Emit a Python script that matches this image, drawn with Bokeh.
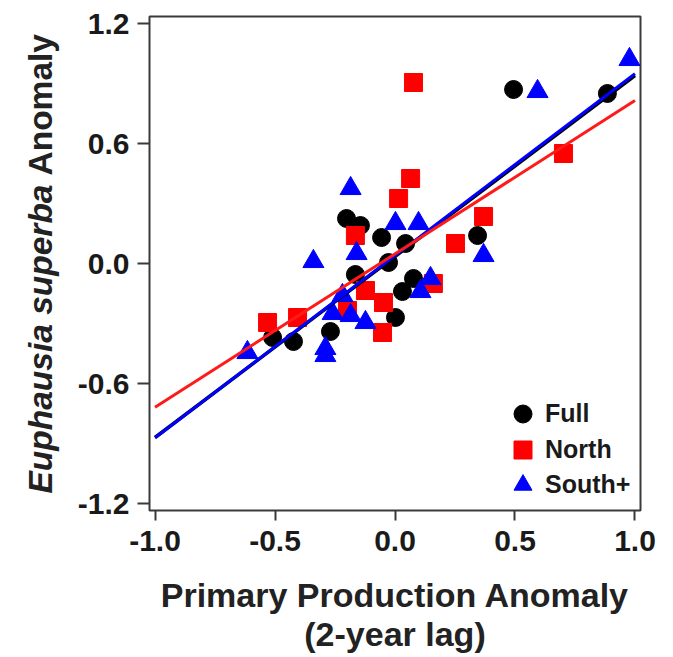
from bokeh.plotting import figure
from bokeh.models import (Range1d, FixedTicker, PrintfTickFormatter, Legend,
                          LegendItem, Label)
from bokeh.embed import file_html
from bokeh.resources import INLINE
import numpy as np

# Primary production anomaly (2-year lag) vs. krill anomaly, by region
full_x = [0.494, 0.885, 0.344, -0.202, -0.144, -0.056, 0.044, -0.027, -0.165,
          0.077, 0.031, 0.002, -0.269, -0.510, -0.423]
full_y = [0.870, 0.850, 0.140, 0.225, 0.190, 0.130, 0.100, 0.005, -0.055,
          -0.075, -0.140, -0.270, -0.340, -0.370, -0.390]

north_x = [0.077, 0.702, 0.065, 0.015, 0.369, -0.165, 0.252, -0.123, -0.048,
           -0.198, -0.052, 0.160, -0.531, -0.406]
north_y = [0.905, 0.550, 0.425, 0.325, 0.235, 0.140, 0.100, -0.135, -0.195,
           -0.235, -0.345, -0.100, -0.295, -0.270]

south_x = [0.977, 0.594, -0.185, 0.002, 0.098, -0.160, 0.369, -0.340, 0.148,
           0.106, -0.219, -0.260, -0.185, -0.123, -0.290, -0.290, -0.615]
south_y = [1.020, 0.860, 0.375, 0.200, 0.200, 0.050, 0.040, 0.010, -0.075,
           -0.140, -0.160, -0.250, -0.260, -0.295, -0.425, -0.460, -0.445]

# Linear fits: (intercept, slope)
fit_full = (0.035, 0.905)
fit_north = (0.048, 0.767)
fit_south = (0.039, 0.910)
fit_x = np.array([-1.0, 1.0])

x_ticks = [-1.0, -0.5, 0.0, 0.5, 1.0]
y_ticks = [-1.2, -0.6, 0.0, 0.6, 1.2]

series_names = ["Full", "North", "South+"]

FONT = "Liberation Sans"
INK = "#1a1a1a"
TITLE_INK = "#222222"
AXIS = "#3a3a3a"

p = figure(width=673, height=657,
           x_range=Range1d(-1.023, 1.023), y_range=Range1d(-1.235, 1.235),
           output_backend="svg", toolbar_location=None,
           min_border_left=149, min_border_right=33,
           min_border_top=16, min_border_bottom=147)

p.xgrid.visible = False
p.ygrid.visible = False
p.outline_line_color = AXIS
p.outline_line_width = 2
p.background_fill_color = "white"
p.border_fill_color = "white"

for ax in (p.xaxis[0], p.yaxis[0]):
    ax.axis_line_color = None
    ax.major_tick_line_color = AXIS
    ax.major_tick_line_width = 2
    ax.major_tick_in = 0
    ax.minor_tick_line_color = None
    ax.major_label_text_font = FONT
    ax.major_label_text_font_style = "bold"
    ax.major_label_text_font_size = "30px"
    ax.major_label_text_color = INK
    ax.formatter = PrintfTickFormatter(format="%.1f")

p.xaxis[0].ticker = FixedTicker(ticks=x_ticks)
p.yaxis[0].ticker = FixedTicker(ticks=y_ticks)
p.xaxis[0].major_tick_out = 10
p.yaxis[0].major_tick_out = 12
p.xaxis[0].major_label_standoff = 10
p.yaxis[0].major_label_standoff = 8

p.xaxis[0].axis_label = "Primary Production Anomaly\n(2-year lag)"
p.xaxis[0].axis_label_text_font = FONT
p.xaxis[0].axis_label_text_font_style = "bold"
p.xaxis[0].axis_label_text_font_size = "34px"
p.xaxis[0].axis_label_text_line_height = 1.05
p.xaxis[0].axis_label_text_color = TITLE_INK
p.xaxis[0].axis_label_standoff = 22
p.yaxis[0].axis_label = None

# Data points: Full below, then North, then South+
r_full = p.scatter(full_x, full_y, marker="circle", size=18,
                   fill_color="black", line_color="black")
r_north = p.scatter(north_x, north_y, marker="square", size=18,
                    fill_color="#ff0000", line_color="#ff0000")
r_south = p.scatter(south_x, south_y, marker="triangle", size=21,
                    fill_color="#0000ff", line_color="#0000ff")

# Regression lines
p.line(fit_x, fit_full[0] + fit_full[1] * fit_x, line_color="black", line_width=3.5)
p.line(fit_x, fit_south[0] + fit_south[1] * fit_x, line_color="#0000ff", line_width=3)
p.line(fit_x, fit_north[0] + fit_north[1] * fit_x, line_color="#ff1a1a", line_width=3)

# One legend box per series so each row sits where it should
renderers = [r_full, r_north, r_south]
row_offsets = [74, 38, 3]
for name, rend, dy in zip(series_names, renderers, row_offsets):
    p.add_layout(Legend(
        items=[LegendItem(label=name, renderers=[rend])],
        location=(351, dy), orientation="vertical",
        glyph_width=45, glyph_height=45, label_standoff=0, spacing=0,
        padding=0, margin=0, border_line_color=None, background_fill_alpha=0,
        label_text_font=FONT, label_text_font_style="bold",
        label_text_font_size="25px", label_text_color=INK, label_height=18,
    ))

# Y-axis title with the species name in italics
p.add_layout(Label(x=-1.477, y=0.395, text="Euphausia superba", angle=np.pi / 2,
                   text_align="right", text_baseline="middle",
                   text_font=FONT, text_font_style="bold italic",
                   text_font_size="33.5px", text_line_height=1.0,
                   text_color=TITLE_INK), "left")
p.add_layout(Label(x=-1.477, y=0.44, text="Anomaly", angle=np.pi / 2,
                   text_align="left", text_baseline="middle",
                   text_font=FONT, text_font_style="bold",
                   text_font_size="33.5px", text_line_height=1.0,
                   text_color=TITLE_INK), "left")

open("out.html", "w").write(file_html(p, INLINE))
